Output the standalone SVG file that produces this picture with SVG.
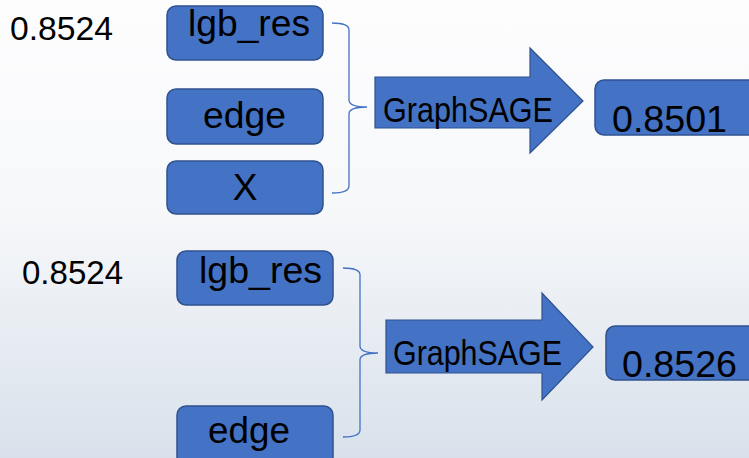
<svg xmlns="http://www.w3.org/2000/svg" width="749" height="458" viewBox="0 0 749 458">
<defs>
<linearGradient id="bg" x1="0" y1="0" x2="0" y2="1">
<stop offset="0" stop-color="#fdfdfe"/>
<stop offset="0.45" stop-color="#f7f8fa"/>
<stop offset="1" stop-color="#d8e1eb"/>
</linearGradient>
<style>
.box{fill:#4472c4;stroke:#2f528f;stroke-width:1.5}
.arr{fill:#4472c4;stroke:#2f528f;stroke-width:1.2}
.br{fill:none;stroke:#4472c4;stroke-width:1.3}
text{font-family:"Liberation Sans",Arial,sans-serif;fill:#000}
.big{font-size:37px}
.lab{font-size:33px}
.gs{font-size:35px}
</style>
</defs>
<rect width="749" height="458" fill="url(#bg)"/>
<g id="connectors">
<path class="br" d="M332,23 Q349,23 349,30 L349,100 Q349,107 367,107 Q349,107 349,114 L349,186 Q349,193 332,193"/>
<path class="br" d="M343,268 Q360,268 360,275 L360,346 Q360,353 378,353 Q360,353 360,360 L360,430 Q360,437 343,437"/>
</g>
<g id="score1"><text class="lab" x="10" y="40" textLength="103" lengthAdjust="spacingAndGlyphs">0.8524</text></g>
<g id="lgb_res1"><rect class="box" x="167" y="6" width="156" height="54" rx="9"/><text class="big" x="188" y="36" textLength="122" lengthAdjust="spacingAndGlyphs">lgb_res</text></g>
<g id="edge1"><rect class="box" x="167" y="89" width="156" height="55" rx="9"/><text class="big" x="203" y="128" textLength="83" lengthAdjust="spacingAndGlyphs">edge</text></g>
<g id="X1"><rect class="box" x="167" y="161" width="156" height="53" rx="9"/><text class="big" x="245" y="200" text-anchor="middle">X</text></g>
<g id="graphsage1"><path class="arr" d="M375,77 L530,77 L530,48 L583,101 L530,153 L530,128 L375,128 Z"/><text class="gs" x="383" y="122" textLength="170" lengthAdjust="spacingAndGlyphs">GraphSAGE</text></g>
<g id="result1"><rect class="box" x="595" y="80" width="162" height="55" rx="9"/><text class="big" x="612" y="132" textLength="115" lengthAdjust="spacingAndGlyphs">0.8501</text></g>
<g id="score2"><text class="lab" x="22" y="284" textLength="101" lengthAdjust="spacingAndGlyphs">0.8524</text></g>
<g id="lgb_res2"><rect class="box" x="177" y="251" width="156" height="54" rx="9"/><text class="big" x="199" y="283" textLength="123" lengthAdjust="spacingAndGlyphs">lgb_res</text></g>
<g id="edge2"><rect class="box" x="177" y="406" width="156" height="60" rx="9"/><text class="big" x="208" y="443" textLength="82" lengthAdjust="spacingAndGlyphs">edge</text></g>
<g id="graphsage2"><path class="arr" d="M386,320 L542,320 L542,293 L593,347 L542,400 L542,373 L386,373 Z"/><text class="gs" x="393" y="365" textLength="169" lengthAdjust="spacingAndGlyphs">GraphSAGE</text></g>
<g id="result2"><rect class="box" x="606" y="326" width="160" height="54" rx="9"/><text class="big" x="622" y="377" textLength="115" lengthAdjust="spacingAndGlyphs">0.8526</text></g>
</svg>
